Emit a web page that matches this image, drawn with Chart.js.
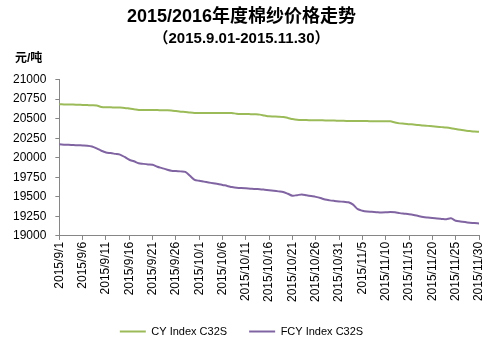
<!DOCTYPE html>
<html>
<head>
<meta charset="utf-8">
<script src="https://cdn.jsdelivr.net/npm/chart.js@4"></script>
<style>
  html, body { margin: 0; padding: 0; background: #fff; }
  #wrap { width: 503px; height: 346px; }
</style>
</head>
<body>
<div id="wrap"><canvas id="chart" width="503" height="346"></canvas></div>
<script>
// 日期 2015/9/1 - 2015/11/30
const days = [];
const monthLens = [[9, 30], [10, 31], [11, 30]];
monthLens.forEach(function(m) {
    for (let d = 1; d <= m[1]; d++) days.push('2015/' + m[0] + '/' + d);
});

// CY Index C32S (元/吨)
const cyIndex = [
    20684, 20683, 20682, 20680, 20678, 20676, 20674, 20672, 20668, 20650,
    20645, 20645, 20644, 20642, 20638, 20630, 20622, 20612, 20610, 20610,
    20612, 20610, 20608, 20607, 20605, 20598, 20590, 20585, 20578, 20573,
    20573, 20573, 20573, 20573, 20573, 20573, 20573, 20573, 20563, 20560,
    20560, 20558, 20556, 20552, 20540, 20530, 20528, 20526, 20522, 20510,
    20495, 20485, 20482, 20482, 20481, 20480, 20480, 20478, 20478, 20476,
    20474, 20472, 20471, 20470, 20470, 20469, 20469, 20468, 20468, 20467,
    20467, 20466, 20450, 20440, 20436, 20430, 20425, 20420, 20413, 20408,
    20403, 20398, 20392, 20386, 20378, 20368, 20358, 20348, 20342, 20336,
    20333
];

// FCY Index C32S (元/吨)
const fcyIndex = [
    20172, 20168, 20165, 20162, 20160, 20158, 20155, 20145, 20120, 20090,
    20068, 20060, 20050, 20040, 20010, 19975, 19955, 19930, 19922, 19915,
    19910, 19885, 19868, 19850, 19835, 19830, 19826, 19820, 19770, 19718,
    19705, 19695, 19684, 19674, 19665, 19652, 19640, 19625, 19615, 19614,
    19610, 19605, 19600, 19598, 19592, 19585, 19578, 19570, 19562, 19540,
    19515, 19522, 19530, 19520, 19510, 19500, 19485, 19465, 19455, 19448,
    19442, 19436, 19430, 19400, 19342, 19322, 19312, 19308, 19304, 19300,
    19302, 19307, 19302, 19292, 19285, 19278, 19268, 19255, 19243, 19235,
    19228, 19222, 19218, 19214, 19225, 19195, 19185, 19177, 19170, 19164,
    19160
];

const yMin = 19000;
const yMax = 21000;
const yStep = 250;
const labelEvery = 5;

const axisGrey = '#868686';
const fontFamily = '"Liberation Sans", "Noto Sans CJK SC", sans-serif';

// 左上角单位
const unitLabel = {
    id: 'unitLabel',
    afterDraw: function(chart) {
        const ctx = chart.ctx;
        ctx.save();
        ctx.font = 'bold 12px ' + fontFamily;
        ctx.fillStyle = '#000';
        ctx.textBaseline = 'middle';
        ctx.fillText('元/吨', 15, 59);
        ctx.restore();
    }
};

new Chart(document.getElementById('chart'), {
    type: 'line',
    data: {
        labels: days,
        datasets: [{
            label: 'CY Index C32S',
            data: cyIndex,
            borderColor: '#9bbb59',
            backgroundColor: '#9bbb59',
            borderWidth: 2,
            pointRadius: 0,
            tension: 0.3
        }, {
            label: 'FCY Index C32S',
            data: fcyIndex,
            borderColor: '#8064a2',
            backgroundColor: '#8064a2',
            borderWidth: 2,
            pointRadius: 0,
            tension: 0.3
        }]
    },
    options: {
        responsive: false,
        animation: false,
        layout: { padding: { left: 4, right: 24, top: 0, bottom: -1 } },
        plugins: {
            title: {
                display: true,
                text: '2015/2016年度棉纱价格走势',
                color: '#000',
                font: { family: fontFamily, size: 18, weight: 'bold' },
                padding: { top: 6, bottom: 2 }
            },
            subtitle: {
                display: true,
                text: '（2015.9.01-2015.11.30）',
                color: '#000',
                font: { family: fontFamily, size: 15, weight: 'bold' },
                padding: { top: 0, bottom: 32 }
            },
            legend: {
                position: 'bottom',
                labels: {
                    usePointStyle: true,
                    pointStyle: 'line',
                    pointStyleWidth: 26,
                    color: '#000',
                    font: { family: fontFamily, size: 11 },
                    padding: 22
                }
            },
            tooltip: { enabled: false }
        },
        scales: {
            x: {
                grid: {
                    drawOnChartArea: false,
                    tickLength: 4,
                    tickColor: function(c) {
                        return c.index % labelEvery === 0 ? axisGrey : 'rgba(0,0,0,0)';
                    }
                },
                border: { color: axisGrey },
                ticks: {
                    autoSkip: false,
                    minRotation: 90,
                    maxRotation: 90,
                    color: '#000',
                    font: { family: fontFamily, size: 12 },
                    padding: 2,
                    callback: function(v, i) {
                        return i % labelEvery === 0 ? days[i] : '';
                    }
                }
            },
            y: {
                min: yMin,
                max: yMax,
                grid: { drawOnChartArea: false, tickLength: 4, tickColor: axisGrey },
                border: { color: axisGrey },
                ticks: {
                    stepSize: yStep,
                    color: '#000',
                    font: { family: fontFamily, size: 12 },
                    padding: 9,
                    callback: function(v) { return String(v); }
                }
            }
        }
    },
    plugins: [unitLabel]
});
</script>
</body>
</html>
